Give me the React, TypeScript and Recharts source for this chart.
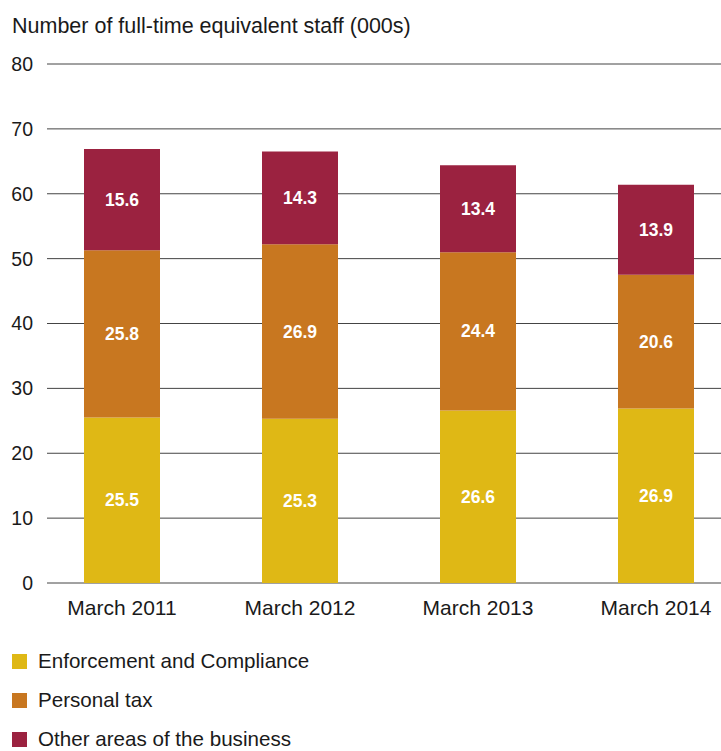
import React from 'react';
import { BarChart, Bar, XAxis, YAxis, CartesianGrid, LabelList } from 'recharts';

const categories = ['March 2011', 'March 2012', 'March 2013', 'March 2014'];
const enforcement = [25.5, 25.3, 26.6, 26.9];
const personalTax = [25.8, 26.9, 24.4, 20.6];
const otherAreas = [15.6, 14.3, 13.4, 13.9];
const yTicks = [0, 10, 20, 30, 40, 50, 60, 70, 80];

const series = [
  { key: 'enforcement', name: 'Enforcement and Compliance', color: '#DFB815' },
  { key: 'personalTax', name: 'Personal tax', color: '#C87720' },
  { key: 'otherAreas', name: 'Other areas of the business', color: '#9B2240' },
];

const FONT = '"Liberation Sans", Arial, Helvetica, sans-serif';

export default function App() {
  const data = categories.map((c, i) => ({
    name: c,
    enforcement: enforcement[i],
    personalTax: personalTax[i],
    otherAreas: otherAreas[i],
  }));

  const labelStyle = { fill: '#ffffff', fontSize: 17.5, fontWeight: 600, fontFamily: FONT };

  return (
    <div style={{ position: 'absolute', left: 0, top: 0, width: 721, height: 751, background: '#fff', fontFamily: FONT, overflow: 'hidden' }}>
      <div style={{ position: 'absolute', left: 12, top: 14, fontSize: 21.5, lineHeight: '25px', color: '#1a1a1a' }}>
        Number of full-time equivalent staff (000s)
      </div>
      <BarChart
        width={721}
        height={751}
        data={data}
        margin={{ top: 64, right: 0, left: 0, bottom: 138 }}
        barSize={76}
      >
        <CartesianGrid vertical={false} stroke="#444" strokeWidth={1} />
        <XAxis
          dataKey="name"
          axisLine={false}
          tickLine={false}
          tickSize={0}
          tickMargin={17}
          height={30}
          padding={{ left: -14, right: -24 }}
          tick={{ fill: '#1a1a1a', fontSize: 21, fontFamily: FONT }}
        />
        <YAxis
          domain={[0, 80]}
          ticks={yTicks}
          width={47}
          axisLine={false}
          tickLine={false}
          tickSize={0}
          tickMargin={14}
          tick={{ fill: '#1a1a1a', fontSize: 19.5, fontFamily: FONT }}
        />
        {series.map((s) => (
          <Bar key={s.key} dataKey={s.key} stackId="a" fill={s.color} isAnimationActive={false}>
            <LabelList dataKey={s.key} position="center" style={labelStyle} formatter={(v: number) => v.toFixed(1)} />
          </Bar>
        ))}
      </BarChart>
      {series.map((s, i) => (
        <div
          key={s.key}
          style={{ position: 'absolute', left: 12, top: 650 + i * 39, display: 'flex', alignItems: 'center', height: 22, lineHeight: '22px' }}
        >
          <div style={{ width: 15, height: 15, background: s.color, marginRight: 11 }} />
          <span style={{ fontSize: 20.6, color: '#1a1a1a' }}>{s.name}</span>
        </div>
      ))}
    </div>
  );
}
